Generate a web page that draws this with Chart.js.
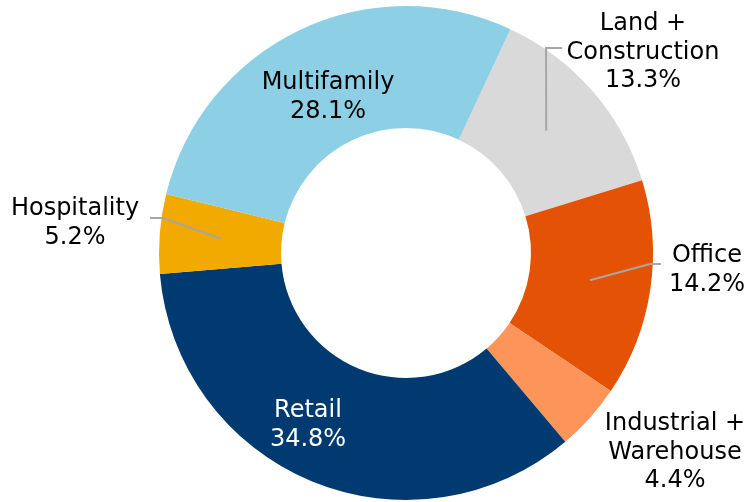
<!DOCTYPE html>
<html>
<head>
<meta charset="utf-8">
<script src="https://cdn.jsdelivr.net/npm/chart.js@4.4.1/dist/chart.umd.min.js"></script>
<style>
  html, body { margin: 0; padding: 0; background: #fff; }
  canvas { display: block; }
</style>
</head>
<body>
<canvas id="mixChart" width="752" height="502"></canvas>
<script>
const categories = [
    ["Land +", "Construction"],
    ["Office"],
    ["Industrial +", "Warehouse"],
    ["Retail"],
    ["Hospitality"],
    ["Multifamily"]
];
const shares = [13.3, 14.2, 4.4, 34.8, 5.2, 28.1];
const colors = ["#d9d9d9", "#e35205", "#fd955a", "#003a70", "#f2a900", "#8dd0e6"];

// label placement relative to chart centre (first baseline), text colour, leader elbows
const labelStyle = [
    { dx: 237, dy: -223, color: "#000", leader: [[140, -205], [156, -205]] },
    { dx: 301, dy: 9, color: "#000", leader: [[244, 11], [255, 11]] },
    { dx: 269, dy: 177, color: "#000", leader: null },
    { dx: -98, dy: 164, color: "#fff", leader: null },
    { dx: -331, dy: -38, color: "#000", leader: [[-243, -35], [-256, -35]] },
    { dx: -78, dy: -164, color: "#000", leader: null }
];

const labelPlugin = {
    id: "sliceLabels",
    afterDraw(chart) {
        const ctx = chart.ctx;
        const arcs = chart.getDatasetMeta(0).data;
        ctx.save();
        ctx.font = "24px 'DejaVu Sans', Verdana, sans-serif";
        ctx.textAlign = "center";
        ctx.textBaseline = "alphabetic";
        arcs.forEach((arc, i) => {
            const st = labelStyle[i];
            const cx = arc.x, cy = arc.y;
            if (st.leader) {
                const mid = (arc.startAngle + arc.endAngle) / 2;
                const r = (arc.innerRadius + arc.outerRadius) / 2;
                ctx.beginPath();
                ctx.moveTo(cx + Math.cos(mid) * r, cy + Math.sin(mid) * r);
                st.leader.forEach(p => ctx.lineTo(cx + p[0], cy + p[1]));
                ctx.strokeStyle = "#a6a6a6";
                ctx.lineWidth = 2;
                ctx.stroke();
            }
            const lines = categories[i].concat([shares[i].toFixed(1) + "%"]);
            ctx.fillStyle = st.color;
            lines.forEach((t, k) => {
                ctx.fillText(t, cx + st.dx, cy + st.dy + k * 28.5);
            });
        });
        ctx.restore();
    }
};

new Chart(document.getElementById("mixChart"), {
    type: "doughnut",
    data: {
        labels: categories.map(c => c.join(" ")),
        datasets: [{
            data: shares,
            backgroundColor: colors,
            borderWidth: 0
        }]
    },
    options: {
        responsive: false,
        animation: false,
        rotation: 25,
        cutout: "50.6%",
        layout: { padding: { left: 159, right: 99, top: 6, bottom: 2 } },
        plugins: {
            legend: { display: false },
            tooltip: { enabled: false }
        }
    },
    plugins: [labelPlugin]
});
</script>
</body>
</html>
